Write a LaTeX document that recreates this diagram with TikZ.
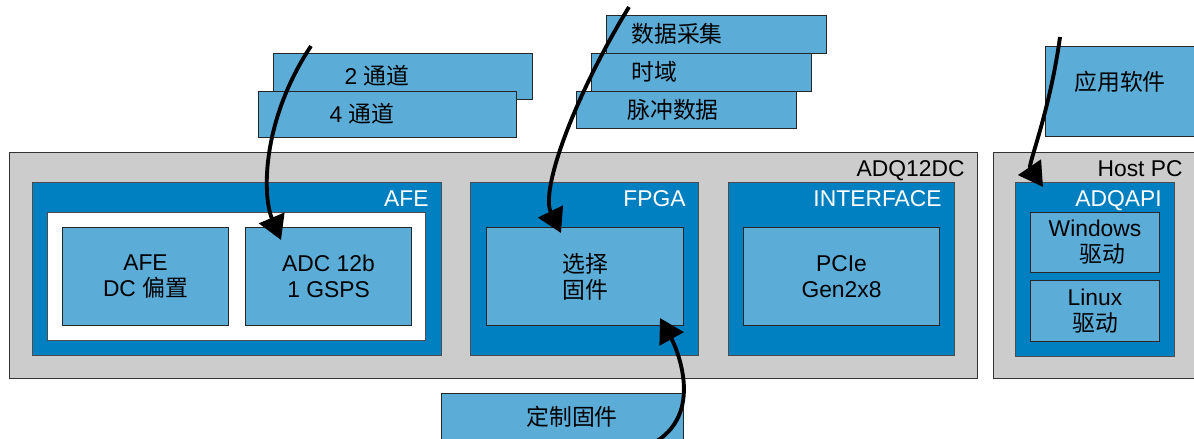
\documentclass[tikz,border=0pt]{standalone}
\usepackage{fontspec}
\setmainfont{Liberation Sans}
\newfontfamily\cjk{Noto Sans CJK SC}
\usepackage{tikz}
\usetikzlibrary{arrows.meta, positioning, calc}

\definecolor{boardgray}{RGB}{204,204,204}
\definecolor{deepblue}{RGB}{0,128,192}
\definecolor{lightblue}{RGB}{91,173,216}

\begin{document}
\begin{tikzpicture}[
    % 1. styles
    x=0.02cm, y=-0.02cm,
    >={Triangle[length=0.48cm, width=0.54cm]},
    chassis/.style={draw=black!80, fill=boardgray, rectangle, anchor=north west, inner sep=0pt, line width=0.6pt},
    module/.style={draw=black!70, fill=deepblue, rectangle, anchor=north west, inner sep=0pt, line width=0.6pt},
    panel/.style={draw=black!70, fill=white, rectangle, anchor=north west, inner sep=0pt, line width=0.6pt},
    cell/.style={draw=black!85, fill=lightblue, rectangle, anchor=north west, inner sep=0pt, line width=0.6pt, font=\fontsize{13}{14.7}\selectfont, align=center},
    hdr/.style={anchor=north east, inner sep=0pt, font=\fontsize{13}{14.7}\selectfont},
    txt/.style={inner sep=0pt, font=\fontsize{13}{14.7}\selectfont},
    flow/.style={->, line width=2.2pt, black}
]
    \useasboundingbox (0,0) rectangle (1194,439);

    % =================================================================
    % I. ADQ12DC board
    % =================================================================
    \node[chassis, minimum width=19.36cm, minimum height=4.52cm] (adq) at (9,152) {};
    \node[hdr] (adq-t) at ($(adq.north east)+(-13,8)$) {ADQ12DC};

    \node[module, minimum width=8.18cm, minimum height=3.46cm] (afe) at (32,182) {};
    \node[hdr, white] (afe-t) at ($(afe.north east)+(-13,8)$) {AFE};
    \node[panel, minimum width=7.56cm, minimum height=2.56cm] (afe-in) at (47,212) {};
    \node[cell, minimum width=3.32cm, minimum height=1.96cm] (bias) at (62,227) {AFE\\DC {\cjk 偏置}};
    \node[cell, minimum width=3.32cm, minimum height=1.96cm] (adc) [right=0.32cm of bias] {ADC 12b\\1 GSPS};

    \node[module, minimum width=4.56cm, minimum height=3.46cm] (fpga) at (470,182) {};
    \node[hdr, white] (fpga-t) at ($(fpga.north east)+(-13,8)$) {FPGA};
    \node[cell, minimum width=3.94cm, minimum height=1.96cm] (fw) at (486,227) {\cjk 选择\\\cjk 固件};

    \node[module, minimum width=4.52cm, minimum height=3.46cm] (intf) at (728,182) {};
    \node[hdr, white] (intf-t) at ($(intf.north east)+(-13,8)$) {INTERFACE};
    \node[cell, minimum width=3.92cm, minimum height=1.96cm] (pcie) at (743,227) {PCIe\\Gen2x8};

    % =================================================================
    % II. Host PC
    % =================================================================
    \node[chassis, minimum width=4.2cm, minimum height=4.52cm] (host) at (993,152) {};
    \node[hdr] (host-t) at ($(host.north west)+(190,8)$) {Host PC};

    \node[module, minimum width=3.18cm, minimum height=3.48cm] (api) at (1015,182) {};
    \node[hdr, white] (api-t) at ($(api.north east)+(-13,8)$) {ADQAPI};
    \node[cell, minimum width=2.58cm, minimum height=1.2cm] (win) at (1030,212) {Windows\\\hspace*{0.3cm}\cjk 驱动};
    \node[cell, minimum width=2.58cm, minimum height=1.22cm] (linux) at (1030,280) {Linux\\\cjk 驱动};

    % =================================================================
    % III. options (top / bottom)
    % =================================================================
    \node[cell, minimum width=5.18cm, minimum height=0.92cm] (ch2) at (273,53) {};
    \node[txt] (ch2-t) at (377,76) {2 {\cjk 通道}};
    \node[cell, minimum width=5.16cm, minimum height=0.92cm] (ch4) at (258,91) {};
    \node[txt] (ch4-t) at (362,114) {4 {\cjk 通道}};

    \node[cell, minimum width=4.4cm, minimum height=0.76cm] (acq) at (606,15) {};
    \node[txt, anchor=west] (acq-t) at (631,34) {\cjk 数据采集};
    \node[cell, minimum width=4.4cm, minimum height=0.76cm] (tdom) at (591,53) {};
    \node[txt, anchor=west] (tdom-t) at (631,72) {\cjk 时域};
    \node[cell, minimum width=4.4cm, minimum height=0.74cm] (pulse) at (576,91) {};
    \node[txt, anchor=west] (pulse-t) at (627,110) {\cjk 脉冲数据};

    \node[cell, minimum width=3.1cm, minimum height=1.8cm] (app) at (1045,46) {};
    \node[txt] (app-t) at (1120,82) {\cjk 应用软件};

    \node[cell, minimum width=4.84cm, minimum height=1.04cm] (custom) at (441,393) {};
    \node[txt] (custom-t) at (572,417) {\cjk 定制固件};

    % =================================================================
    % IV. arrows
    % =================================================================
    \coordinate (ch-src) at (311,46);
    \coordinate (adc-in) at (281,240);
    \coordinate (mode-src) at (629,7);
    \coordinate (fw-in) at (561,233);
    \coordinate (cust-src) at (657,441);
    \coordinate (fw-low) at (660,318);
    \coordinate (app-src) at (1060,37);
    \coordinate (api-in) at (1043,187);

    \draw[flow] (ch-src) .. controls (262,120) and (262,195) .. (adc-in);
    \draw[flow] (mode-src) .. controls (575,95) and (540,190) .. (fw-in);
    \draw[flow] (cust-src) .. controls (705,410) and (675,345) .. (fw-low);
    \draw[flow] (app-src) .. controls (1050,110) and (1028,165) .. (api-in);

\end{tikzpicture}
\end{document}
